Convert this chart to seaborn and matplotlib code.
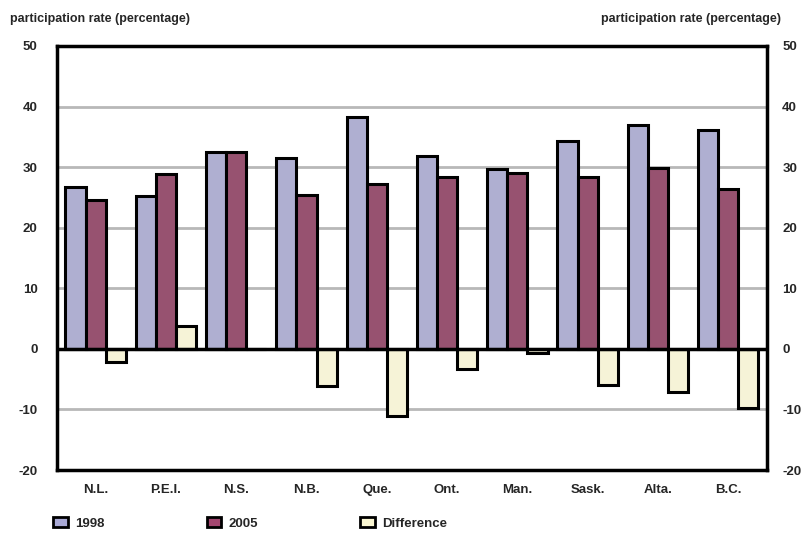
import seaborn as sns
import pandas as pd
import matplotlib.pyplot as plt
from matplotlib.patches import Patch

# participation rates by province
provinces = ['N.L.', 'P.E.I.', 'N.S.', 'N.B.', 'Que.', 'Ont.', 'Man.', 'Sask.', 'Alta.', 'B.C.']
rate_1998 = [26.7, 25.2, 32.5, 31.5, 38.3, 31.8, 29.7, 34.3, 37.0, 36.1]
rate_2005 = [24.5, 28.9, 32.5, 25.4, 27.2, 28.4, 29.0, 28.4, 29.9, 26.4]
difference = [-2.2, 3.7, -0.1, -6.1, -11.1, -3.4, -0.7, -5.9, -7.1, -9.7]

series = ['1998', '2005', 'Difference']
colors = ['#AAAAD6', '#A3466F', '#FBF7D2']

df = pd.DataFrame({'province': provinces * 3,
                   'value': rate_1998 + rate_2005 + difference,
                   'series': [s for s in series for _ in provinces]})

sns.set_style('white')
plt.rcParams['font.family'] = ['Liberation Sans', 'DejaVu Sans']
plt.rcParams['font.weight'] = 'bold'
plt.rcParams['axes.unicode_minus'] = False

fig = plt.figure(figsize=(8.09, 5.54), dpi=100)
ax = fig.add_axes([0.0705, 0.1516, 0.8775, 0.7654])

sns.barplot(data=df, x='province', y='value', hue='series', hue_order=series,
            palette=colors, width=0.86, edgecolor='black', linewidth=2.2,
            ax=ax, legend=False, zorder=3)

ax.set_ylim(-20, 50)
ax.set_xlim(-0.55, 9.55)
ax.set_yticks(range(-20, 51, 10))
ax.set_xlabel('')
ax.set_ylabel('')

# grid lines
for y in [-10, 10, 20, 30, 40]:
    ax.axhline(y, color='#B8B8B8', linewidth=2, zorder=1)
ax.axhline(0, color='black', linewidth=2.5, zorder=4)

for sp in ax.spines.values():
    sp.set_linewidth(2.5)
    sp.set_color('black')

ax.tick_params(axis='both', length=0, labelsize=9.5)
ax.tick_params(axis='y', pad=14)
ax.tick_params(axis='x', pad=10)

# right-hand axis labels
ax2 = ax.twinx()
ax2.set_ylim(-20, 50)
ax2.set_yticks(range(-20, 51, 10))
ax2.tick_params(axis='y', length=0, labelsize=9.5, pad=11)
for sp in ax2.spines.values():
    sp.set_visible(False)

fig.text(0.012, 0.955, 'participation rate (percentage)', fontsize=9, ha='left', va='bottom')
fig.text(0.966, 0.955, 'participation rate (percentage)', fontsize=9, ha='right', va='bottom')

# legend
handles = [Patch(facecolor=c, edgecolor='black', linewidth=2) for c in colors]
fig.legend(handles, series, loc='center left', bbox_to_anchor=(0.051, 0.055),
           ncol=3, frameon=False, fontsize=9.5, handlelength=1.1, handleheight=0.7,
           handletextpad=0.6, columnspacing=7.7)

plt.savefig('out.png', dpi=100)
